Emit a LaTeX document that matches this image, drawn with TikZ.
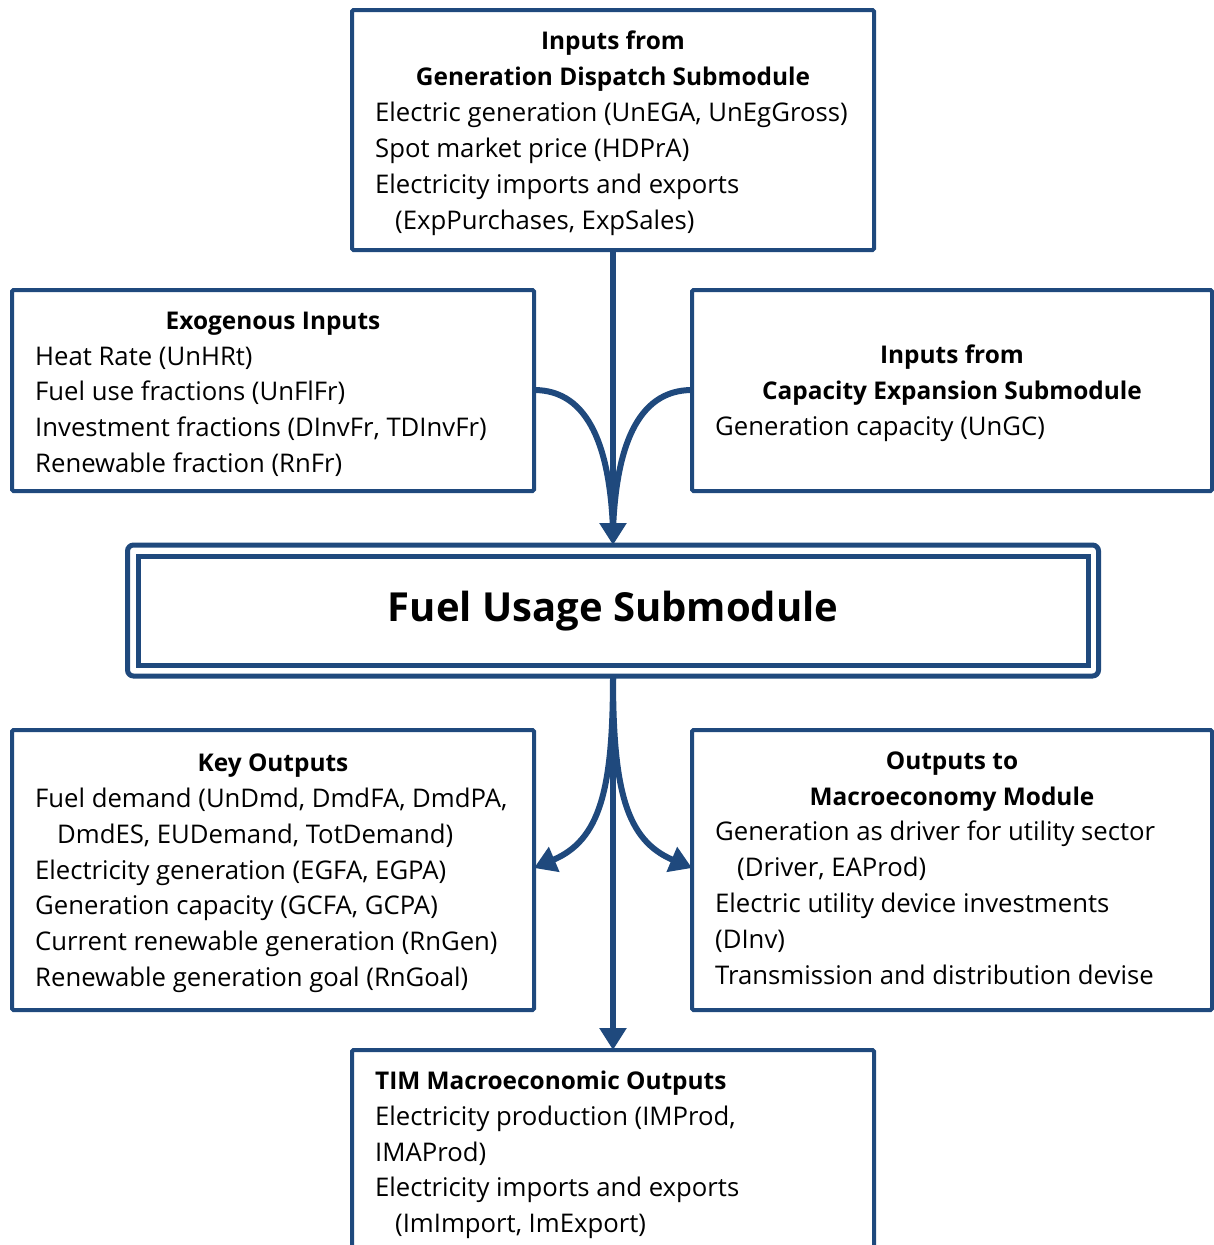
\documentclass[tikz,border=0pt]{standalone}
\usepackage{fontspec}
\setmainfont{Open Sans}
\usetikzlibrary{arrows.meta}
\definecolor{frame}{RGB}{31,73,125}
\begin{document}
\begin{tikzpicture}[x=1pt,y=-1pt,
  box/.style={draw=frame,line width=4pt,rounded corners=1.5pt},
  conn/.style={draw=frame,line width=6pt},
  tip/.style={-{Triangle[width=26pt,length=22pt]}},
  txt/.style={inner sep=0pt,font=\fontsize{25.7}{36}\selectfont},
  hl/.style={txt,anchor=base,font=\fontsize{24.4}{36}\selectfont\bfseries},
  ln/.style={txt,anchor=base west}]
\useasboundingbox (0,0) rectangle (1214,1245);

% boxes
\draw[box] (352,10) rectangle (874,250);
\coordinate (topS) at (613,250);
\draw[box] (12,290) rectangle (534,491);
\coordinate (exoE) at (534,390);
\draw[box] (692,290) rectangle (1212,491);
\coordinate (capW) at (692,390);
\draw[box] (12,730) rectangle (534,1010);
\coordinate (keyE) at (534,868);
\draw[box] (692,730) rectangle (1212,1010);
\coordinate (macW) at (692,868);
\draw[box] (352,1050) rectangle (874,1262);
\coordinate (timN) at (613,1050);

% central double frame
\draw[draw=frame,line width=5pt,rounded corners=6pt] (127.5,545) rectangle (1098.5,676);
\draw[draw=frame,line width=5pt] (138,556) rectangle (1088,665);
\coordinate (fuelN) at (613,545);
\coordinate (fuelS) at (613,676);
\node[inner sep=0pt,font=\fontsize{40}{48}\selectfont\bfseries] (fuel) at (613,611) {Fuel Usage Submodule};

% connectors
\draw[conn] (exoE) .. controls (590,390) and (610,450) .. (613,530);
\draw[conn] (capW) .. controls (636,390) and (616,450) .. (613,530);
\draw[conn,tip] (topS) -- (fuelN);
\draw[conn,tip] (fuelS) .. controls (613,790) and (600,840) .. (keyE);
\draw[conn,tip] (fuelS) .. controls (613,790) and (626,840) .. (macW);
\draw[conn,tip] (fuelS) -- (timN);

% top box text
\node[hl] (a1) at (613,49) {Inputs from};
\node[hl] (a2) at (613,85) {Generation Dispatch Submodule};
\node[ln] (a3) at (375,121) {Electric generation (UnEGA, UnEgGross)};
\node[ln] (a4) at (375,157) {Spot market price (HDPrA)};
\node[ln] (a5) at (375,193) {Electricity imports and exports};
\node[ln] (a6) at (395,229) {(ExpPurchases, ExpSales)};

% exogenous inputs
\node[hl] (b1) at (273,329) {Exogenous Inputs};
\node[ln] (b2) at (35,365) {Heat Rate (UnHRt)};
\node[ln] (b3) at (35,400) {Fuel use fractions (UnFlFr)};
\node[ln] (b4) at (35,436) {Investment fractions (DInvFr, TDInvFr)};
\node[ln] (b5) at (35,472) {Renewable fraction (RnFr)};

% capacity expansion
\node[hl] (c1) at (952,363) {Inputs from};
\node[hl] (c2) at (952,399) {Capacity Expansion Submodule};
\node[ln] (c3) at (715,435) {Generation capacity (UnGC)};

% key outputs
\node[hl] (d1) at (273,771) {Key Outputs};
\node[ln] (d2) at (35,807) {Fuel demand (UnDmd, DmdFA, DmdPA,};
\node[ln] (d3) at (57,843) {DmdES, EUDemand, TotDemand)};
\node[ln] (d4) at (35,879) {Electricity generation (EGFA, EGPA)};
\node[ln] (d5) at (35,914) {Generation capacity (GCFA, GCPA)};
\node[ln] (d6) at (35,950) {Current renewable generation (RnGen)};
\node[ln] (d7) at (35,986) {Renewable generation goal (RnGoal)};

% outputs to macroeconomy
\node[hl] (e1) at (952,769) {Outputs to};
\node[hl] (e2) at (952,805) {Macroeconomy Module};
\node[ln] (e3) at (715,840) {Generation as driver for utility sector};
\node[ln] (e4) at (737,876) {(Driver, EAProd)};
\node[ln] (e5) at (715,912) {Electric utility device investments};
\node[ln] (e6) at (715,948) {(DInv)};
\node[ln] (e7) at (715,984) {Transmission and distribution devise};

% TIM outputs
\node[ln,font=\fontsize{24.4}{36}\selectfont\bfseries] (f1) at (375,1089) {TIM Macroeconomic Outputs};
\node[ln] (f2) at (375,1125) {Electricity production (IMProd,};
\node[ln] (f3) at (375,1161) {IMAProd)};
\node[ln] (f4) at (375,1196) {Electricity imports and exports};
\node[ln] (f5) at (395,1232) {(ImImport, ImExport)};
\end{tikzpicture}
\end{document}
